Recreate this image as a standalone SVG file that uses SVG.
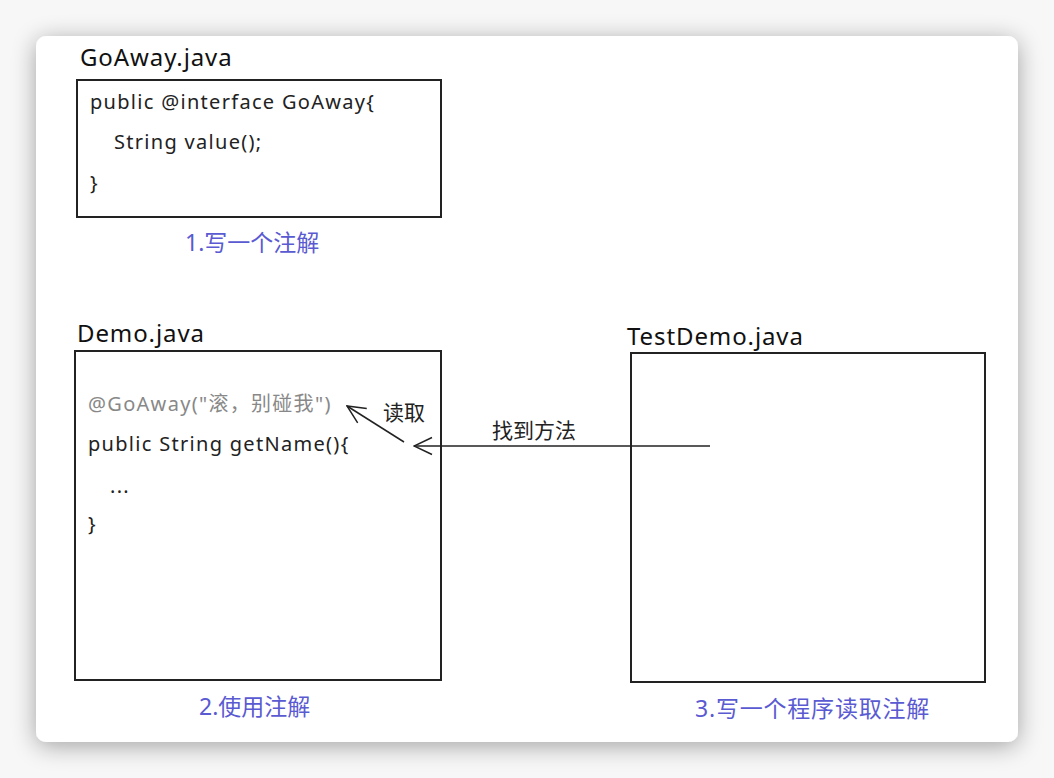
<svg xmlns="http://www.w3.org/2000/svg" width="1054" height="778" viewBox="0 0 1054 778">
<defs>
<filter id="sh" x="-10%" y="-10%" width="120%" height="120%">
<feGaussianBlur in="SourceAlpha" stdDeviation="12"/>
<feOffset dy="4"/>
<feComponentTransfer><feFuncA type="linear" slope="0.35"/></feComponentTransfer>
<feMerge><feMergeNode/><feMergeNode in="SourceGraphic"/></feMerge>
</filter>
<marker id="ah" viewBox="0 0 20 20" refX="19" refY="10" markerWidth="20" markerHeight="20" markerUnits="userSpaceOnUse" orient="auto">
<path d="M1,1.5 L19,10 L1,18.5" fill="none" stroke="#222" stroke-width="1.5"/>
</marker>
</defs>
<style>
.box{fill:#fff;stroke:#222;stroke-width:2}
.title{font-family:"Noto Sans","Noto Sans CJK SC",sans-serif;font-size:24px;letter-spacing:0.9px;fill:#111}
.code{font-family:"Noto Sans","Noto Sans CJK SC",sans-serif;font-size:20px;letter-spacing:1.3px;fill:#222}
.gray{fill:#888}
.lab{font-family:"Noto Sans","Noto Sans CJK SC",sans-serif;font-size:23px;fill:#5a5ad2}
.conn{font-family:"Noto Sans CJK SC",sans-serif;font-size:21px;fill:#222}
.line{stroke:#222;stroke-width:1.5;fill:none}
</style>
<rect width="1054" height="778" fill="#f7f7f7"/>
<rect x="36" y="36" width="982" height="706" rx="10" fill="#fff" filter="url(#sh)"/>
<g id="goaway">
<text class="title" x="80" y="66">GoAway.java</text>
<rect class="box" x="77" y="80" width="364" height="137"/>
<text class="code" x="90" y="109">public @interface GoAway{</text>
<text class="code" x="114" y="149">String value();</text>
<text class="code" x="90" y="190">}</text>
<text class="lab" x="185" y="251">1.写一个注解</text>
</g>
<g id="demo">
<text class="title" x="77" y="342">Demo.java</text>
<rect class="box" x="75" y="351" width="366" height="329"/>
<text class="code gray" x="88" y="411">@GoAway("滚，别碰我")</text>
<text class="code" x="88" y="451">public String getName(){</text>
<text class="code" x="110" y="493">...</text>
<text class="code" x="88" y="531">}</text>
<text class="lab" x="199" y="715">2.使用注解</text>
</g>
<g id="testdemo">
<text class="title" x="627" y="345">TestDemo.java</text>
<rect class="box" x="631" y="353" width="354" height="329"/>
<text class="lab" x="695" y="717" letter-spacing="0.8">3.写一个程序读取注解</text>
</g>
<g id="connectors">
<line class="line" x1="710" y1="446" x2="414" y2="446" marker-end="url(#ah)"/>
<text class="conn" x="492" y="438">找到方法</text>
<line class="line" x1="404" y1="442" x2="347" y2="406" marker-end="url(#ah)"/>
<text class="conn" x="383" y="420">读取</text>
</g>
</svg>
